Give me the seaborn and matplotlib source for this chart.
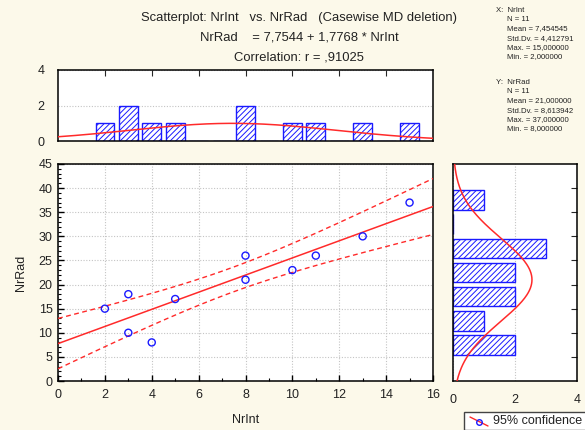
import numpy as np
import pandas as pd
import matplotlib
matplotlib.use("Agg")
import matplotlib.pyplot as plt
from matplotlib.lines import Line2D
from matplotlib.patches import Rectangle
import seaborn as sns

# ---------------- data ----------------
nrint = [2, 3, 3, 4, 5, 8, 8, 10, 11, 13, 15]
nrrad = [15, 18, 10, 8, 17, 26, 21, 23, 26, 30, 37]
x_name = "NrInt"
y_name = "NrRad"
y_bin_edges = [5, 10, 15, 20, 25, 30, 35, 40]
t_crit = 2.2622  # t(0.975, df=9)

sns.set_style("ticks")
plt.rcParams["font.family"] = ["Liberation Sans", "DejaVu Sans"]
plt.rcParams["hatch.linewidth"] = 0.7
plt.rcParams["hatch.color"] = "#1a1aff"

BG = "#fcf9ea"
BLUE = "#1a1aff"
RED = "#ff2a2a"
TXT = "#222222"
GRID = "#c4c4c4"

x = np.array(nrint, dtype=float)
y = np.array(nrrad, dtype=float)
n = len(x)
slope, intercept = np.polyfit(x, y, 1)
r = np.corrcoef(x, y)[0, 1]

fig = plt.figure(figsize=(5.85, 4.30), dpi=100, facecolor=BG)

ax = fig.add_axes([58/585, 1-381/430, (433-58)/585, (381-164)/430])
axt = fig.add_axes([58/585, 1-141/430, (433-58)/585, (141-70)/430])
axr = fig.add_axes([453/585, 1-381/430, (577-453)/585, (381-164)/430])

for a in (ax, axt, axr):
    a.set_facecolor("white")
    for s in a.spines.values():
        s.set_visible(True)
        s.set_color("black")
        s.set_linewidth(1.1)

# ---------------- main scatter ----------------
df = pd.DataFrame({x_name: x, y_name: y})
xx = np.linspace(0, 16, 200)
fit = intercept + slope * xx
sxx = np.sum((x - x.mean())**2)
s_res = np.sqrt(np.sum((y - (intercept + slope*x))**2) / (n - 2))
half = t_crit * s_res * np.sqrt(1/n + (xx - x.mean())**2 / sxx)

sns.lineplot(x=xx, y=fit, ax=ax, color=RED, lw=1.1, zorder=3)
sns.lineplot(x=xx, y=fit + half, ax=ax, color=RED, lw=1.0, zorder=3).lines[-1].set_dashes((3.5, 2.5))
sns.lineplot(x=xx, y=fit - half, ax=ax, color=RED, lw=1.0, zorder=3).lines[-1].set_dashes((3.5, 2.5))
sns.scatterplot(data=df, x=x_name, y=y_name, ax=ax, marker="o", s=26,
                facecolor="none", edgecolor=BLUE, linewidth=1.0, zorder=4)

ax.set_xlim(0, 16)
ax.set_ylim(0, 45)
ax.set_xticks(np.arange(0, 17, 2))
ax.set_yticks(np.arange(0, 46, 5))
ax.set_xticks(np.arange(0, 17, 1), minor=True)
ax.set_yticks(np.arange(0, 46, 1), minor=True)
ax.grid(True, which="major", color=GRID, ls=(0, (1, 1.5)), lw=0.8)
ax.tick_params(which="major", direction="in", length=4, width=1, colors="black",
               labelcolor=TXT, labelsize=9)
ax.tick_params(axis="x", which="major", pad=6)
ax.tick_params(axis="y", which="major", pad=4)
ax.tick_params(which="minor", direction="in", length=2, width=0.8, colors="black")
ax.set_xlabel(x_name, fontsize=9, color=TXT, labelpad=9)
ax.set_ylabel(y_name, fontsize=9, color=TXT, labelpad=8)

# ---------------- top histogram ----------------
sns.histplot(x=x, discrete=True, shrink=0.8, ax=axt, stat="count")
for p in axt.patches:
    p.set_facecolor("white")
    p.set_edgecolor(BLUE)
    p.set_hatch("//////")
    p.set_alpha(1)
    p.set_linewidth(1.0)
gx = np.linspace(0, 16, 200)
gy = n * 1.0 * np.exp(-0.5*((gx - x.mean())/x.std(ddof=1))**2) / (x.std(ddof=1)*np.sqrt(2*np.pi))
sns.lineplot(x=gx, y=gy, ax=axt, color=RED, lw=1.1, zorder=3)
axt.set_xlim(0, 16)
axt.set_ylim(0, 4)
axt.set_yticks([0, 2, 4])
axt.set_xticks(np.arange(2, 15, 2))
axt.yaxis.grid(True, color=GRID, ls=(0, (1, 1.5)), lw=0.8)
axt.tick_params(axis="x", top=True, bottom=False, labelbottom=False, direction="in", length=4)
axt.tick_params(axis="y", left=False, labelsize=9, labelcolor=TXT, pad=6)
axt.set_xlabel("")
axt.set_ylabel("")

# ---------------- right histogram ----------------
cats = pd.cut(y, bins=y_bin_edges, right=True)
counts = pd.Series(cats).value_counts(sort=False).values
centers = [(a + b) / 2 for a, b in zip(y_bin_edges[:-1], y_bin_edges[1:])]
sns.histplot(y=centers, weights=counts, bins=y_bin_edges, shrink=0.82, ax=axr)
for p in axr.patches:
    p.set_facecolor("white")
    p.set_edgecolor(BLUE)
    p.set_hatch("//////")
    p.set_alpha(1)
    p.set_linewidth(1.0)
gy2 = np.linspace(0, 45, 200)
w = y_bin_edges[1] - y_bin_edges[0]
gx2 = n * w * np.exp(-0.5*((gy2 - y.mean())/y.std(ddof=1))**2) / (y.std(ddof=1)*np.sqrt(2*np.pi))
axr.plot(gx2, gy2, color=RED, lw=1.1, zorder=3)
axr.set_xlim(0, 4)
axr.set_ylim(0, 45)
axr.set_xticks([0, 2, 4])
axr.set_yticks(np.arange(5, 41, 5))
axr.xaxis.grid(True, color=GRID, ls=(0, (1, 1.5)), lw=0.8)
axr.tick_params(axis="y", left=False, right=True, labelleft=False, direction="in", length=4)
axr.tick_params(axis="x", bottom=False, labelsize=9, labelcolor=TXT, pad=6)
axr.set_xlabel("")
axr.set_ylabel("")

# ---------------- titles ----------------
def cnum(v, d):
    return f"{v:.{d}f}".replace(".", ",")

fig.text(299/585, 1-18/430, f"Scatterplot: {x_name}   vs. {y_name}   (Casewise MD deletion)",
         ha="center", va="center", fontsize=9.4, color=TXT)
fig.text(299/585, 1-37/430, f"{y_name}    = {cnum(intercept, 4)} + {cnum(slope, 4)} * {x_name}",
         ha="center", va="center", fontsize=9.4, color=TXT)
rs = cnum(r, 5)
rs = rs[1:] if rs.startswith("0") else rs
fig.text(299/585, 1-57/430, f"Correlation: r = {rs}",
         ha="center", va="center", fontsize=9.4, color=TXT)

# ---------------- stats block ----------------
def stats_lines(label, v):
    return [f"{label}",
            f"N = {len(v)}",
            f"Mean = {cnum(v.mean(), 6)}",
            f"Std.Dv. = {cnum(v.std(ddof=1), 6)}",
            f"Max. = {cnum(v.max(), 6)}",
            f"Min. = {cnum(v.min(), 6)}"]

for lines, y0 in ((stats_lines(f"X:  {x_name}", x), 10), (stats_lines(f"Y:  {y_name}", y), 82)):
    for i, t in enumerate(lines):
        fig.text((496 if i == 0 else 507)/585, 1-(y0 + i*9.4)/430, t,
                 ha="left", va="center", fontsize=5.6, color=TXT)

# ---------------- legend ----------------
fig.patches.append(Rectangle((464/585, 0), 0.3, 1-412/430, transform=fig.transFigure,
                             facecolor="white", edgecolor="#444444", lw=1.0, zorder=5))
fig.lines.append(Line2D([470/585, 488/585], [1-417/430, 1-426/430], transform=fig.transFigure,
                        color=RED, lw=1.0, zorder=6))
fig.lines.append(Line2D([479/585], [1-421.5/430], transform=fig.transFigure, marker="o",
                        markersize=4, markerfacecolor="none", markeredgecolor=BLUE, zorder=7))
fig.text(493/585, 1-421/430, "95% confidence", ha="left", va="center", fontsize=9.0,
         color=TXT, zorder=8)

fig.savefig("out.png", dpi=100, facecolor=BG)
